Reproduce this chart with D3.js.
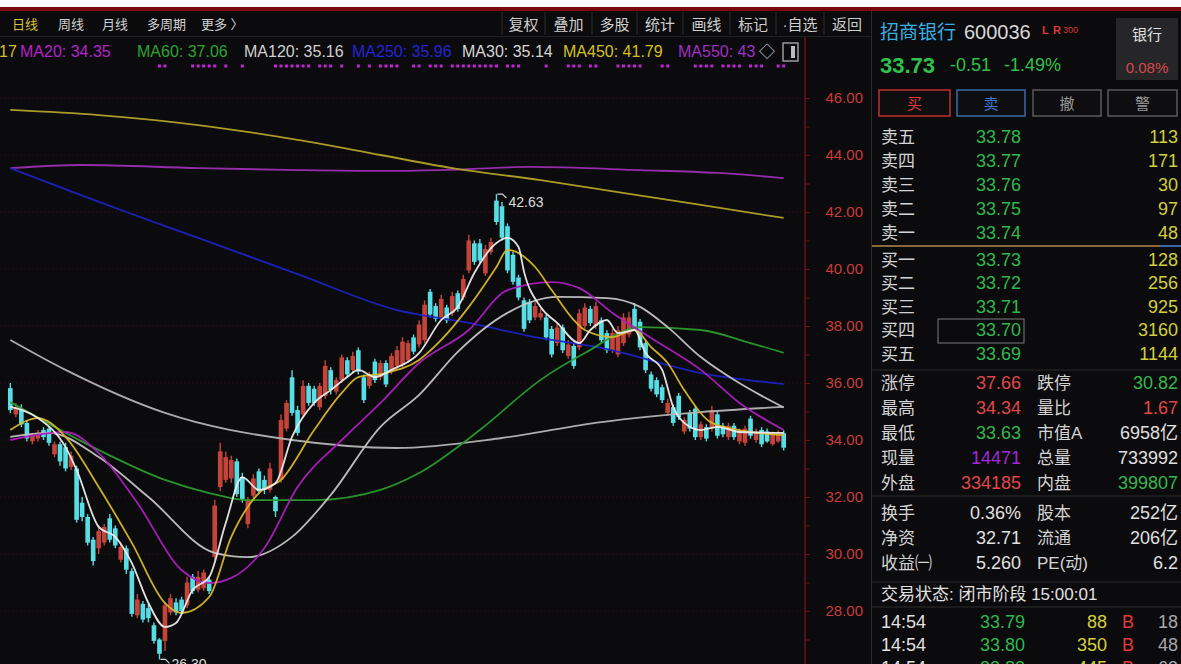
<!DOCTYPE html>
<html><head><meta charset="utf-8">
<script src="https://cdn.jsdelivr.net/npm/d3@7"></script>
<style>
html,body{margin:0;padding:0;background:#0b0a0c;overflow:hidden}
svg{display:block}
text{font-family:"Liberation Sans","Noto Sans CJK SC",sans-serif}
</style></head><body>
<svg id="c" width="1181" height="664"></svg>
<script>
// ---------------- DATA ----------------
const opens  = [35.82,34.9,35.1,34.6,33.95,34.05,34.35,34.4,33.5,33.85,33.75,33.05,33.0,31.8,31.3,30.5,30.2,30.4,31.25,30.9,29.8,30.2,29.4,27.85,28.25,28.1,27.5,27.0,26.95,27.95,28.3,28.4,28.2,29.2,28.75,28.8,29.1,29.9,32.35,32.6,32.65,33.25,32.7,31.05,32.05,32.9,32.6,32.25,32.0,32.6,34.4,36.2,35.05,34.9,35.9,35.8,35.15,35.55,36.45,35.7,36.1,36.8,36.45,37.15,36.2,35.9,36.75,36.2,36.7,36.4,36.6,36.65,36.8,37.6,37.35,37.5,39.2,38.7,38.3,38.65,38.45,39.15,39.0,39.95,40.9,40.9,39.85,40.6,42.4,42.2,41.5,40.5,39.7,38.9,38.85,38.3,38.3,38.3,37.9,37.4,37.95,36.95,37.3,37.25,38.0,38.6,38.0,38.2,37.75,37.15,37.0,37.4,37.7,38.6,38.15,37.4,36.3,36.1,35.85,34.95,35.15,35.55,34.3,34.95,35.1,34.1,34.45,34.4,34.9,34.5,34.1,34.5,33.95,33.9,34.75,34.0,34.35,34.3,33.85,33.95,34.24];
const highs  = [36.0,35.3,35.25,34.7,34.25,34.35,34.45,34.5,33.95,33.95,33.9,33.6,33.1,32.0,31.4,30.6,31.0,31.05,31.4,31.0,30.4,30.3,29.5,28.6,28.35,28.25,27.6,27.05,28.3,28.6,28.45,28.5,29.2,29.3,29.4,29.45,29.2,31.9,33.9,33.6,33.45,33.35,32.85,32.0,32.8,33.0,32.75,33.2,32.05,34.9,35.4,36.45,35.2,36.1,36.0,35.9,36.0,36.8,36.55,36.2,37.0,36.9,37.1,37.25,36.3,36.4,36.85,36.8,36.8,37.05,37.3,37.6,37.5,37.7,38.2,38.9,39.3,38.8,39.1,38.75,39.2,39.25,39.8,41.2,41.0,41.05,40.85,41.1,42.63,42.35,41.6,40.6,39.8,39.0,38.95,38.85,38.6,38.4,38.0,38.1,38.05,37.5,37.4,38.6,38.8,38.7,38.85,38.3,37.85,37.9,38.0,38.45,38.5,38.8,38.25,37.5,36.4,36.2,35.95,35.45,35.25,35.65,34.8,35.05,35.2,34.65,34.55,35.2,35.0,34.6,34.6,34.6,34.4,34.5,34.85,34.4,34.45,34.4,34.3,34.34,34.34];
const lows   = [34.95,34.8,34.45,33.95,33.85,33.95,34.0,33.8,33.4,33.1,32.9,32.95,31.1,31.15,30.3,29.6,30.0,30.3,30.4,30.2,29.7,29.3,27.8,27.75,27.6,27.6,26.85,26.30,26.6,27.85,27.85,27.9,28.1,28.6,28.65,28.7,28.6,29.8,32.2,32.5,32.5,32.0,31.8,30.9,31.95,32.1,32.1,32.15,31.3,32.5,34.3,34.85,34.15,34.8,35.2,35.2,35.05,35.45,35.6,35.6,36.0,36.2,36.35,36.3,35.3,35.8,36.0,36.1,35.85,36.3,36.5,36.55,36.7,37.0,37.25,37.4,38.3,38.15,38.2,38.1,38.35,38.5,38.9,39.85,40.15,40.2,39.75,40.5,41.55,41.0,39.85,39.45,38.9,37.8,38.1,38.2,38.2,37.5,36.9,37.3,37.05,36.85,36.5,37.15,37.9,38.0,37.9,37.4,37.05,37.05,36.9,37.3,37.6,37.85,37.15,36.35,35.7,35.5,35.3,34.85,34.5,34.7,34.2,34.3,34.0,34.0,33.95,34.3,34.05,34.1,34.0,34.0,33.85,33.8,34.05,33.9,33.75,33.9,33.8,33.9,33.63];
const closes = [35.05,35.15,34.55,34.05,34.15,34.25,34.1,33.9,33.85,33.25,33.0,33.45,31.2,31.3,30.4,29.75,30.8,30.95,30.5,30.3,30.25,29.45,27.9,28.4,27.7,27.75,26.95,26.5,28.2,28.45,27.95,28.0,29.0,28.7,29.2,29.35,28.7,31.7,33.6,33.4,33.3,32.1,31.9,31.9,32.65,32.2,32.25,33.0,31.5,34.7,35.3,34.95,34.25,35.9,35.3,35.3,35.9,36.6,35.75,36.1,36.9,36.3,36.95,36.4,35.4,36.3,36.1,36.7,35.95,36.95,37.15,37.45,37.4,37.1,38.05,38.75,38.4,38.25,38.95,38.2,39.05,38.6,39.65,41.0,40.25,40.3,40.7,40.95,41.65,41.1,39.95,39.55,39.0,37.9,38.2,38.7,38.45,37.6,37.0,37.95,37.15,37.35,36.6,38.45,38.65,38.1,38.7,37.5,37.15,37.75,37.85,38.3,38.3,37.95,37.25,36.45,35.8,35.6,35.4,35.3,34.6,34.8,34.7,34.4,34.1,34.55,34.05,35.05,34.15,34.2,34.5,34.1,34.3,34.4,34.15,34.3,33.85,33.95,34.2,34.24,33.73];

// moving averages as [candle index, value]
const ma5 = [[0,35.16],[5,34.77],[10,33.75],[12,32.95],[16,30.95],[19,30.6],[22,29.68],[25,28.28],[28,27.44],[30,27.58],[33,28.74],[36,29.19],[39,31.09],[42,32.7],[45,32.25],[48,32.49],[51,34.11],[55,35.3],[58,35.75],[61,36.21],[63,36.46],[66,36.21],[69,36.46],[74,37.05],[78,38.21],[81,38.67],[84,39.86],[88,40.91],[90,41.09],[92,40.77],[93,39.9],[96,38.67],[99,38.11],[103,37.4],[105,37.86],[108,38.21],[110,37.75],[113,37.86],[115,37.05],[118,36.46],[120,35.16],[122,34.6],[125,34.35],[128,34.46],[132,34.28],[140,34.25]];
const ma10 = [[0,34.35],[5,34.77],[10,34.11],[16,32.35],[22,30.39],[28,28.28],[31,27.93],[36,28.49],[40,30.6],[45,32.14],[49,32.6],[55,34.35],[60,35.65],[63,36.21],[68,36.35],[74,36.81],[78,37.51],[83,38.67],[88,40.07],[90,40.67],[95,40.07],[98,39.26],[102,38.21],[104,37.86],[109,37.61],[113,37.86],[116,37.26],[119,36.7],[122,35.75],[127,34.6],[132,34.35],[140,34.17]];
const ma20 = [[0,34.0],[10,34.28],[16,33.54],[23,31.79],[31,29.44],[36,28.98],[40,29.16],[46,30.21],[52,32.35],[60,34.0],[67,35.3],[74,36.7],[83,37.86],[90,39.26],[98,39.54],[103,39.33],[109,38.46],[116,37.58],[125,36.46],[132,35.3],[140,34.35]];
const ma30 = [[0,34.11],[7,34.25],[16,33.4],[25,32.0],[37,30.04],[43,29.89],[51,30.6],[58,32.07],[67,34.46],[74,35.58],[81,37.09],[90,38.46],[99,39.02],[108,38.98],[114,38.67],[119,37.96],[125,36.91],[131,36.11],[140,35.14]];
const ma60 = [[0,35.33],[16,33.65],[28,32.6],[36,32.14],[43,31.89],[55,31.89],[67,32.25],[74,32.84],[85,34.35],[96,36.11],[104,37.05],[114,37.96],[125,37.86],[134,37.4],[140,37.06]];
const ma120 = [[0,37.51],[10,36.46],[28,34.95],[51,34.0],[70,33.72],[89,34.07],[107,34.63],[125,34.98],[140,35.16]];
const ma250 = [[0,43.54],[20,42.07],[34,41.09],[52,39.82],[70,38.56],[83,38.11],[95,37.61],[107,37.23],[125,36.35],[140,35.96]];
const ma450 = [[0,45.58],[16,45.4],[34,45.05],[52,44.53],[67,44.0],[80,43.54],[96,43.12],[110,42.7],[125,42.25],[140,41.79]];
const ma550 = [[0,43.54],[13,43.65],[34,43.54],[52,43.47],[67,43.44],[78,43.47],[94,43.58],[114,43.47],[128,43.37],[140,43.19]];

const signalIdx = [27,28,33,34,35,36,37,39,42,48,49,50,51,52,53,54,56,57,58,60,63,65,67,68,69,70,73,74,76,77,78,80,81,82,83,84,85,86,87,88,90,91,92,97,101,102,103,105,106,110,111,112,113,114,118,119,124,125,126,127,129,130,131,132,134,135,136,139,140];

const yTicks = [28,30,32,34,36,38,40,42,44,46];
const yMinor = [27,29,31,33,35,37,39,41,43,45];

const maLegend = [["17","#d4bc2a",-1],["MA20: 34.35","#b424c8",20],["MA60: 37.06","#2ea332",137],["MA120: 35.16","#cfcfcf",244],["MA250: 35.96","#2424d6",352],["MA30: 35.14","#d6d6d6",462],["MA450: 41.79","#d4c024",563],["MA550: 43","#a030c4",678],["◇","#d0d0d0",759]];
const periodTabs = ["日线","周线","月线","多周期","更多 〉"];
const toolButtons = ["复权","叠加","多股","统计","画线","标记","·自选","返回"];

const askLabels = ["卖五","卖四","卖三","卖二","卖一"];
const askPrices = ["33.78","33.77","33.76","33.75","33.74"];
const askVols = [113,171,30,97,48];
const bidLabels = ["买一","买二","买三","买四","买五"];
const bidPrices = ["33.73","33.72","33.71","33.70","33.69"];
const bidVols = [128,256,925,3160,1144];

const statL1 = ["涨停","最高","最低","现量","外盘"];
const statV1 = ["37.66","34.34","33.63","14471","334185"];
const statC1 = ["#e04848","#e04848","#34b84e","#a428d8","#e04848"];
const statL2 = ["跌停","量比","市值A","总量","内盘"];
const statV2 = ["30.82","1.67","6958亿","733992","399807"];
const statC2 = ["#34b84e","#e04848","#e0e0e0","#e0e0e0","#34b84e"];
const finL1 = ["换手","净资","收益㈠"];
const finV1 = ["0.36%","32.71","5.260"];
const finL2 = ["股本","流通","PE(动)"];
const finV2 = ["252亿","206亿","6.2"];

const tradeTimes = ["14:54","14:54","14:54"];
const tradePrices = ["33.79","33.80","33.82"];
const tradeVols = [88,350,445];
const tradeSide = ["B","B","B"];
const tradeCnt = [18,48,63];

// ---------------- DRAW ----------------
const svg = d3.select("#c");
svg.append("rect").attr("width",1181).attr("height",664).attr("fill","#0b0a0c");
svg.append("rect").attr("width",1181).attr("height",7).attr("fill","#ffffff");
svg.append("rect").attr("y",7).attr("width",1181).attr("height",4).attr("fill","#7a0c0c");

const x = d3.scaleBand().domain(d3.range(closes.length)).range([8,786]).paddingInner(0.16);
const cx = i => x(i) + x.bandwidth()/2;
const y = d3.scaleLinear().domain([28,46]).range([611,98]);

svg.append("defs").append("clipPath").attr("id","plot").append("rect").attr("x",0).attr("y",72).attr("width",804).attr("height",600);

// toolbar
const tb = svg.append("g");
tb.selectAll("text.tab").data(periodTabs).join("text")
  .attr("x",(d,i)=>[12,58,102,147,201][i]).attr("y",24).attr("dominant-baseline","central")
  .attr("font-size",13).attr("fill",(d,i)=>i===0?"#d8c23a":"#d2d2d2").text(d=>d);
const sepX = [502,545,592,637,683,730,776,824];
tb.selectAll("line.sep").data(sepX).join("line").attr("x1",d=>d).attr("x2",d=>d).attr("y1",12).attr("y2",35).attr("stroke","#2e2e2e");
tb.selectAll("text.btn").data(toolButtons).join("text")
  .attr("x",(d,i)=>(sepX[i]+(i<7?sepX[i+1]:870))/2).attr("y",24).attr("text-anchor","middle").attr("dominant-baseline","central")
  .attr("font-size",15).attr("fill","#cfcfcf").text(d=>d);
svg.append("line").attr("x1",0).attr("x2",871).attr("y1",36.5).attr("y2",36.5).attr("stroke","#222");

// MA legend
svg.append("g").selectAll("text").data(maLegend).join("text")
  .attr("x",d=>d[2]).attr("y",51).attr("dominant-baseline","central").attr("font-size",16)
  .attr("fill",d=>d[1]).text(d=>d[0]);
svg.append("rect").attr("x",783).attr("y",43).attr("width",15).attr("height",18).attr("fill","none").attr("stroke","#9a9a9a").attr("stroke-width",1.5);
svg.append("rect").attr("x",791).attr("y",46).attr("width",4).attr("height",12).attr("fill","#bbbbbb");

// signal dots
svg.append("g").selectAll("rect").data(signalIdx).join("rect")
  .attr("x",d=>cx(d)-1.5).attr("y",64.5).attr("width",3).attr("height",3).attr("fill","#c024d4");

// grid
svg.append("g").selectAll("line").data(yTicks).join("line")
  .attr("x1",0).attr("x2",804).attr("y1",d=>y(d)).attr("y2",d=>y(d))
  .attr("stroke","#3c0e12").attr("stroke-dasharray","1,3");

// axis
svg.append("line").attr("x1",805).attr("x2",805).attr("y1",37).attr("y2",664).attr("stroke","#6a1414").attr("stroke-width",1.5);
const axMinor = svg.append("g").attr("transform","translate(805,0)").call(d3.axisRight(y).tickValues(yMinor).tickSize(5).tickFormat(""));
const axMajor = svg.append("g").attr("transform","translate(805,0)").call(d3.axisRight(y).tickValues(yTicks).tickSize(5).tickFormat(d3.format(".2f")));
[axMinor,axMajor].forEach(g=>{g.select(".domain").remove();g.selectAll("line").attr("stroke","#6a1414");});
axMajor.selectAll("text").attr("x",58).attr("text-anchor","end").attr("fill","#c83c3c").attr("font-size",15)
  .attr("font-family","Liberation Sans, sans-serif");
svg.append("line").attr("x1",871.5).attr("x2",871.5).attr("y1",11).attr("y2",664).attr("stroke","#2a2a2a");

// plot
const plot = svg.append("g").attr("clip-path","url(#plot)");
const line = d3.line().x(d=>cx(d[0])).y(d=>y(d[1])).curve(d3.curveMonotoneX);
const maDefs = [[ma550,"#9b2fb2"],[ma450,"#b3a22a"],[ma250,"#1e22c4"],[ma120,"#b4b4b4"],[ma60,"#2a9a2e"],[ma30,"#c4c4c4"],[ma20,"#ac1ec0"],[ma10,"#d6b628"],[ma5,"#ececec"]];

const idx = d3.range(closes.length);
const up = i => closes[i] >= opens[i];
const colUp = "#c4443a", colDn = "#58dde4";
plot.append("g").selectAll("line").data(idx).join("line")
  .attr("x1",cx).attr("x2",cx).attr("y1",i=>y(highs[i])).attr("y2",i=>y(lows[i]))
  .attr("stroke",i=>up(i)?colUp:colDn).attr("stroke-width",1.4);
plot.append("g").selectAll("rect").data(idx).join("rect")
  .attr("x",i=>x(i)).attr("width",x.bandwidth())
  .attr("y",i=>y(Math.max(opens[i],closes[i])))
  .attr("height",i=>Math.max(1,Math.abs(y(opens[i])-y(closes[i]))))
  .attr("fill",i=>up(i)?colUp:colDn);

maDefs.forEach(([d,c])=>{
  plot.append("path").datum(d).attr("d",line).attr("fill","none").attr("stroke",c).attr("stroke-width",1.8).attr("stroke-opacity",0.95);
});

// extreme markers
const hiI = d3.maxIndex(highs), loI = d3.minIndex(lows);
const mk = plot.append("g").attr("stroke","#d8d8d8").attr("fill","none").attr("stroke-width",1.2);
mk.append("path").attr("d",`M${cx(hiI)+1},${y(highs[hiI])} h5 l4,4`);
mk.append("path").attr("d",`M${cx(loI)+1},${y(lows[loI])} h5 l4,4`);
plot.append("text").attr("x",cx(hiI)+12).attr("y",y(highs[hiI])+8).attr("dominant-baseline","central").attr("font-size",14).attr("fill","#dcdcdc").text(d3.format(".2f")(highs[hiI]));
plot.append("text").attr("x",cx(loI)+12).attr("y",y(lows[loI])+5).attr("dominant-baseline","central").attr("font-size",14).attr("fill","#dcdcdc").text(d3.format(".2f")(lows[loI]));

// ---------------- RIGHT PANEL ----------------
const rp = svg.append("g");
rp.append("text").attr("x",880).attr("y",32).attr("dominant-baseline","central").attr("font-size",19).attr("fill","#3aaee0").text("招商银行");
rp.append("text").attr("x",964).attr("y",32).attr("dominant-baseline","central").attr("font-size",20).attr("fill","#d8d8d8").text("600036");
rp.append("text").attr("x",1042).attr("y",30).attr("dominant-baseline","central").attr("font-size",11).attr("font-weight","bold").attr("fill","#d83a3a").text("L");
rp.append("text").attr("x",1053).attr("y",30).attr("dominant-baseline","central").attr("font-size",11).attr("font-weight","bold").attr("fill","#d83a3a").text("R");
rp.append("text").attr("x",1063).attr("y",30).attr("dominant-baseline","central").attr("font-size",9).attr("fill","#d83a3a").text("300");
rp.append("rect").attr("x",1116).attr("y",18).attr("width",62).attr("height",62).attr("fill","#262628");
rp.append("text").attr("x",1147).attr("y",34).attr("text-anchor","middle").attr("dominant-baseline","central").attr("font-size",15).attr("fill","#e0e0e0").text("银行");
rp.append("text").attr("x",1147).attr("y",67).attr("text-anchor","middle").attr("dominant-baseline","central").attr("font-size",15).attr("fill","#d84848").text("0.08%");
rp.append("text").attr("x",880).attr("y",65).attr("dominant-baseline","central").attr("font-size",22).attr("font-weight","bold").attr("fill","#2ec24c").text("33.73");
rp.append("text").attr("x",950).attr("y",65).attr("dominant-baseline","central").attr("font-size",18).attr("fill","#2ec24c").text("-0.51");
rp.append("text").attr("x",1004).attr("y",65).attr("dominant-baseline","central").attr("font-size",18).attr("fill","#2ec24c").text("-1.49%");

const btns = [["买",879,950,"#c03030","#e03a3a"],["卖",957,1025,"#3a6aa8","#3a7ad0"],["撤",1033,1101,"#5a5a5a","#9a9a9a"],["警",1108,1177,"#5a5a5a","#9a9a9a"]];
btns.forEach(b=>{
  rp.append("rect").attr("x",b[1]).attr("y",90).attr("width",b[2]-b[1]).attr("height",26).attr("fill","#0e0e10").attr("stroke",b[3]).attr("stroke-width",1.5);
  rp.append("text").attr("x",(b[1]+b[2])/2).attr("y",103).attr("text-anchor","middle").attr("dominant-baseline","central").attr("font-size",15).attr("fill",b[4]).text(b[0]);
});

const fs = 17;
const askY = [137,161,185,209,233], bidY = [260,283,307,330,354];
function bookRows(labels, prices, vols, ys){
  const g = rp.append("g");
  g.selectAll("text.l").data(labels).join("text").attr("x",881).attr("y",(d,i)=>ys[i]).attr("dominant-baseline","central").attr("font-size",fs).attr("fill","#d4d4d4").text(d=>d);
  g.selectAll("text.p").data(prices).join("text").attr("x",1021).attr("y",(d,i)=>ys[i]).attr("text-anchor","end").attr("dominant-baseline","central").attr("font-size",fs+1).attr("fill","#2fb84c").text(d=>d);
  g.selectAll("text.v").data(vols).join("text").attr("x",1178).attr("y",(d,i)=>ys[i]).attr("text-anchor","end").attr("dominant-baseline","central").attr("font-size",fs+1).attr("fill","#d2cf3c").text(d=>d);
}
bookRows(askLabels, askPrices, askVols, askY);
rp.append("line").attr("x1",872).attr("x2",1160).attr("y1",246).attr("y2",246).attr("stroke","#8a6a3c").attr("stroke-width",2);
rp.append("line").attr("x1",1160).attr("x2",1181).attr("y1",246).attr("y2",246).attr("stroke","#3a6aa8").attr("stroke-width",2);
bookRows(bidLabels, bidPrices, bidVols, bidY);
rp.append("rect").attr("x",938).attr("y",319).attr("width",86).attr("height",24).attr("fill","none").attr("stroke","#6a6a6a").attr("stroke-width",1.2);

[370,496,582,607].forEach(v=>rp.append("line").attr("x1",872).attr("x2",1181).attr("y1",v).attr("y2",v).attr("stroke","#2c2c2c").attr("stroke-width",1.2));

const statY = [383,408,433,458,483];
const sg = rp.append("g");
sg.selectAll("text.a").data(statL1).join("text").attr("x",881).attr("y",(d,i)=>statY[i]).attr("dominant-baseline","central").attr("font-size",fs).attr("fill","#d4d4d4").text(d=>d);
sg.selectAll("text.b").data(statV1).join("text").attr("x",1021).attr("y",(d,i)=>statY[i]).attr("text-anchor","end").attr("dominant-baseline","central").attr("font-size",fs+1).attr("fill",(d,i)=>statC1[i]).text(d=>d);
sg.selectAll("text.c").data(statL2).join("text").attr("x",1037).attr("y",(d,i)=>statY[i]).attr("dominant-baseline","central").attr("font-size",fs).attr("fill","#d4d4d4").text(d=>d);
sg.selectAll("text.d").data(statV2).join("text").attr("x",1178).attr("y",(d,i)=>statY[i]).attr("text-anchor","end").attr("dominant-baseline","central").attr("font-size",fs+1).attr("fill",(d,i)=>statC2[i]).text(d=>d);

const finY = [513,538,563];
const fg = rp.append("g");
fg.selectAll("text.a").data(finL1).join("text").attr("x",881).attr("y",(d,i)=>finY[i]).attr("dominant-baseline","central").attr("font-size",fs).attr("fill","#d4d4d4").text(d=>d);
fg.selectAll("text.b").data(finV1).join("text").attr("x",1021).attr("y",(d,i)=>finY[i]).attr("text-anchor","end").attr("dominant-baseline","central").attr("font-size",fs+1).attr("fill","#e0e0e0").text(d=>d);
fg.selectAll("text.c").data(finL2).join("text").attr("x",1037).attr("y",(d,i)=>finY[i]).attr("dominant-baseline","central").attr("font-size",fs).attr("fill","#d4d4d4").text(d=>d);
fg.selectAll("text.d").data(finV2).join("text").attr("x",1178).attr("y",(d,i)=>finY[i]).attr("text-anchor","end").attr("dominant-baseline","central").attr("font-size",fs+1).attr("fill","#e0e0e0").text(d=>d);

rp.append("text").attr("x",881).attr("y",594).attr("dominant-baseline","central").attr("font-size",fs).attr("fill","#e0e0e0").text("交易状态: 闭市阶段 15:00:01");

const trY = [622,645,668];
const tg = rp.append("g");
tg.selectAll("text.t").data(tradeTimes).join("text").attr("x",881).attr("y",(d,i)=>trY[i]).attr("dominant-baseline","central").attr("font-size",fs+1).attr("fill","#e0e0e0").text(d=>d);
tg.selectAll("text.p").data(tradePrices).join("text").attr("x",1025).attr("y",(d,i)=>trY[i]).attr("text-anchor","end").attr("dominant-baseline","central").attr("font-size",fs+1).attr("fill","#2fb84c").text(d=>d);
tg.selectAll("text.v").data(tradeVols).join("text").attr("x",1107).attr("y",(d,i)=>trY[i]).attr("text-anchor","end").attr("dominant-baseline","central").attr("font-size",fs+1).attr("fill","#d2cf3c").text(d=>d);
tg.selectAll("text.s").data(tradeSide).join("text").attr("x",1122).attr("y",(d,i)=>trY[i]).attr("dominant-baseline","central").attr("font-size",fs+1).attr("fill","#e03a3a").text(d=>d);
tg.selectAll("text.n").data(tradeCnt).join("text").attr("x",1178).attr("y",(d,i)=>trY[i]).attr("text-anchor","end").attr("dominant-baseline","central").attr("font-size",fs+1).attr("fill","#a8a8a8").text(d=>d);
</script>
</body></html>
